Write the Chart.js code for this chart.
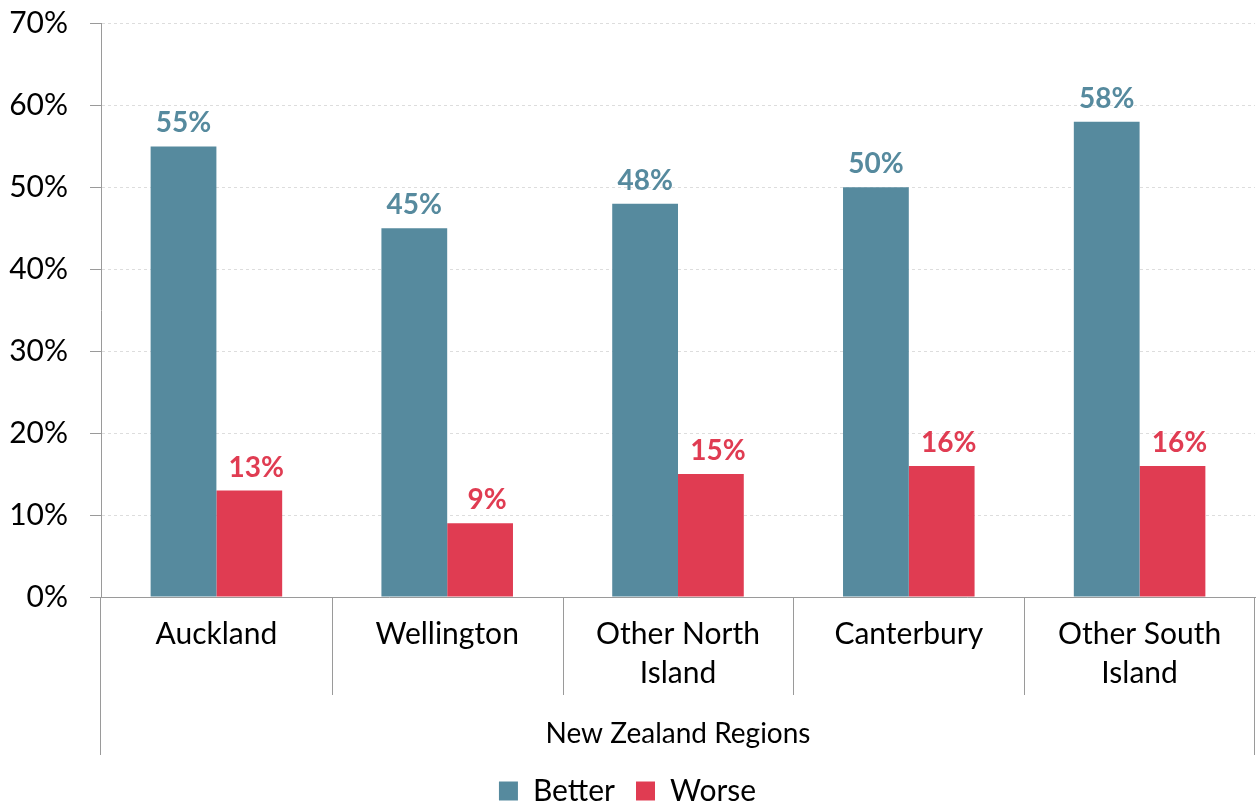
<!DOCTYPE html>
<html>
<head>
<meta charset="utf-8">
<script src="https://cdn.jsdelivr.net/npm/chart.js@4/dist/chart.umd.min.js"></script>
<style>
  html, body { margin: 0; padding: 0; background: #fff; }
  #wrap { width: 1256px; height: 805px; }
</style>
</head>
<body>
<div id="wrap"><canvas id="chart"></canvas></div>
<script>
var regions = ["Auckland", "Wellington", ["Other North", "Island"], "Canterbury", ["Other South", "Island"]];
var better = [55, 45, 48, 50, 58];
var worse = [13, 9, 15, 16, 16];
var yTicks = [0, 10, 20, 30, 40, 50, 60, 70];

var blue = "#568A9E";
var red = "#E03C52";
var fontFam = "Lato, 'Open Sans', sans-serif";

// value labels over the bars
var barLabels = {
    id: "barLabels",
    afterDatasetsDraw: function(chart) {
        var ctx = chart.ctx;
        ctx.save();
        ctx.font = "bold 28px " + fontFam;
        ctx.textAlign = "center";
        ctx.textBaseline = "bottom";
        chart.data.datasets.forEach(function(ds, di) {
            var meta = chart.getDatasetMeta(di);
            var shift = di === 1 ? 7 : 0;
            meta.data.forEach(function(bar, i) {
                ctx.fillStyle = ds.backgroundColor;
                ctx.fillText(ds.data[i] + "%", bar.x + shift, bar.y - 9);
            });
        });
        ctx.restore();
    }
};

// category separators and outer frame lines below the axis
var separators = {
    id: "separators",
    afterDraw: function(chart) {
        var ctx = chart.ctx;
        var x = chart.scales.x;
        var area = chart.chartArea;
        var n = chart.data.labels.length;
        var outerBottom = x.bottom;
        var innerBottom = area.bottom + 98;
        ctx.save();
        ctx.strokeStyle = "#9a9a9a";
        ctx.lineWidth = 1;
        for (var i = 1; i < n; i++) {
            var px = Math.round((x.getPixelForTick(i - 1) + x.getPixelForTick(i)) / 2) + 0.5;
            ctx.beginPath();
            ctx.moveTo(px, area.bottom);
            ctx.lineTo(px, innerBottom);
            ctx.stroke();
        }
        [area.left, area.right].forEach(function(px) {
            px = Math.round(px) - 0.5;
            ctx.beginPath();
            ctx.moveTo(px, area.bottom);
            ctx.lineTo(px, outerBottom);
            ctx.stroke();
        });
        ctx.restore();
    }
};

new Chart(document.getElementById("chart"), {
    type: "bar",
    data: {
        labels: regions,
        datasets: [{
            label: "Better",
            backgroundColor: blue,
            data: better
        },
        {
            label: "Worse",
            backgroundColor: red,
            data: worse
        }]
    },
    options: {
        responsive: true,
        maintainAspectRatio: false,
        animation: false,
        datasets: {
            bar: { categoryPercentage: 0.57, barPercentage: 1.0 }
        },
        layout: { padding: { top: -5, right: 1, left: 0, bottom: -11 } },
        plugins: {
            legend: {
                position: "bottom",
                labels: {
                    boxWidth: 19,
                    boxHeight: 19,
                    padding: 21,
                    color: "#000",
                    font: { family: fontFam, size: 30 }
                }
            },
            tooltip: { enabled: false }
        },
        scales: {
            x: {
                grid: { display: false, drawTicks: false },
                border: { display: true, color: "#9a9a9a" },
                ticks: {
                    color: "#000",
                    padding: 18,
                    maxRotation: 0,
                    font: { family: fontFam, size: 30, lineHeight: 1.3 }
                },
                title: {
                    display: true,
                    text: "New Zealand Regions",
                    color: "#000",
                    font: { family: fontFam, size: 28 },
                    padding: { top: 0, bottom: 4 }
                },
                afterFit: function(scale) { scale.height = 158; }
            },
            y: {
                min: 0,
                max: 70,
                afterBuildTicks: function(scale) {
                    scale.ticks = yTicks.map(function(v) { return { value: v }; });
                },
                grid: {
                    color: "#dddddd",
                    tickColor: "#9a9a9a",
                    tickLength: 11,
                    drawTicks: true
                },
                border: { display: true, color: "#9a9a9a", dash: [3, 3] },
                ticks: {
                    color: "#000",
                    padding: 22,
                    font: { family: fontFam, size: 30, lineHeight: 0.1 },
                    callback: function(v) { return v + "%"; }
                },
                afterFit: function(scale) { scale.width = 101; }
            }
        }
    },
    plugins: [barLabels, separators]
});
</script>
</body>
</html>
